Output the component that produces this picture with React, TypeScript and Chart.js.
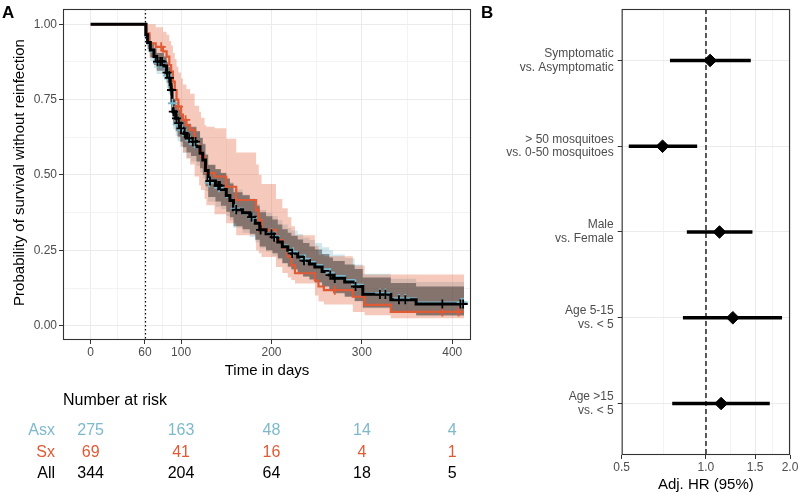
import React, { useEffect, useRef } from 'react';
import { Chart, registerables } from 'chart.js';
Chart.register(...registerables);

const FONT = "'Liberation Sans', Arial, Helvetica, sans-serif";
const GREY_TXT = '#4D4D4D';
const C_ALL = '#000000';
const C_ASX = '#7DB9CC';
const C_SX = '#E05A35';

// ---------- Panel A: Kaplan-Meier ----------
const ALL_T = [0, 60, 61, 63, 66, 70, 73, 81, 84, 86, 88, 89, 90, 91, 94, 96, 99, 102, 106, 111, 117, 121, 124, 127, 130, 138, 144, 150, 154, 158, 168, 176, 182, 187, 194, 201, 207, 212, 218, 222, 229, 235, 242, 248, 256, 264, 268, 281, 292, 301, 332, 360, 413];
const ALL_S = [1, 1, 0.965, 0.94, 0.915, 0.893, 0.876, 0.862, 0.84, 0.822, 0.8, 0.782, 0.745, 0.71, 0.688, 0.672, 0.655, 0.638, 0.622, 0.611, 0.594, 0.572, 0.55, 0.515, 0.48, 0.465, 0.452, 0.432, 0.415, 0.385, 0.375, 0.36, 0.34, 0.318, 0.305, 0.294, 0.278, 0.262, 0.25, 0.24, 0.228, 0.216, 0.205, 0.195, 0.18, 0.168, 0.157, 0.145, 0.13, 0.104, 0.086, 0.072, 0.072];
const ALL_LO = [1, 1, 0.945, 0.918, 0.89, 0.865, 0.846, 0.83, 0.806, 0.787, 0.763, 0.744, 0.705, 0.668, 0.645, 0.628, 0.61, 0.592, 0.575, 0.563, 0.545, 0.522, 0.5, 0.463, 0.427, 0.412, 0.398, 0.378, 0.36, 0.33, 0.32, 0.305, 0.285, 0.263, 0.25, 0.24, 0.224, 0.208, 0.196, 0.187, 0.175, 0.163, 0.153, 0.143, 0.13, 0.118, 0.108, 0.096, 0.082, 0.06, 0.046, 0.034, 0.034];
const ALL_HI = [1, 1, 0.985, 0.965, 0.94, 0.92, 0.905, 0.893, 0.874, 0.858, 0.838, 0.822, 0.787, 0.753, 0.732, 0.717, 0.7, 0.685, 0.67, 0.66, 0.645, 0.623, 0.602, 0.568, 0.534, 0.52, 0.507, 0.488, 0.472, 0.443, 0.433, 0.418, 0.398, 0.376, 0.363, 0.352, 0.336, 0.32, 0.308, 0.298, 0.286, 0.274, 0.263, 0.253, 0.238, 0.226, 0.215, 0.203, 0.188, 0.16, 0.142, 0.13, 0.13];

const ASX_T = ALL_T;
const ASX_S = [1, 1, 0.962, 0.935, 0.91, 0.89, 0.872, 0.856, 0.83, 0.812, 0.79, 0.774, 0.738, 0.705, 0.685, 0.668, 0.65, 0.632, 0.615, 0.604, 0.59, 0.57, 0.55, 0.51, 0.475, 0.458, 0.45, 0.428, 0.415, 0.388, 0.372, 0.358, 0.34, 0.319, 0.307, 0.297, 0.282, 0.266, 0.254, 0.245, 0.233, 0.222, 0.211, 0.201, 0.187, 0.176, 0.165, 0.152, 0.136, 0.108, 0.09, 0.077, 0.077];
const ASX_LO = [1, 1, 0.938, 0.908, 0.878, 0.855, 0.835, 0.815, 0.788, 0.768, 0.742, 0.724, 0.686, 0.652, 0.63, 0.612, 0.593, 0.574, 0.556, 0.545, 0.53, 0.508, 0.488, 0.447, 0.412, 0.395, 0.386, 0.364, 0.35, 0.325, 0.308, 0.294, 0.276, 0.256, 0.245, 0.232, 0.22, 0.205, 0.193, 0.186, 0.174, 0.162, 0.154, 0.144, 0.131, 0.122, 0.11, 0.098, 0.08, 0.058, 0.046, 0.036, 0.036];
const ASX_HI = [1, 1, 0.985, 0.962, 0.94, 0.922, 0.906, 0.892, 0.868, 0.852, 0.832, 0.818, 0.784, 0.752, 0.734, 0.718, 0.7, 0.684, 0.668, 0.657, 0.645, 0.625, 0.605, 0.566, 0.532, 0.516, 0.508, 0.488, 0.476, 0.452, 0.435, 0.422, 0.404, 0.385, 0.375, 0.364, 0.35, 0.336, 0.324, 0.316, 0.304, 0.292, 0.284, 0.274, 0.26, 0.25, 0.236, 0.224, 0.203, 0.172, 0.156, 0.145, 0.145];

const SX_T = [0, 60, 62, 65, 72, 80, 84, 87, 89, 91, 93, 95, 97, 100, 102, 106, 110, 115, 120, 122, 126, 128, 137, 150, 161, 183, 186, 189, 205, 212, 218, 222, 226, 248, 252, 258, 290, 303, 332, 413];
const SX_S = [1, 1, 0.97, 0.937, 0.925, 0.91, 0.893, 0.865, 0.843, 0.81, 0.782, 0.75, 0.727, 0.7, 0.683, 0.665, 0.65, 0.605, 0.58, 0.561, 0.53, 0.506, 0.495, 0.461, 0.417, 0.384, 0.35, 0.318, 0.284, 0.26, 0.229, 0.2, 0.174, 0.15, 0.13, 0.118, 0.096, 0.069, 0.046, 0.046];
const SX_LO = [1, 1, 0.93, 0.89, 0.865, 0.85, 0.83, 0.79, 0.765, 0.72, 0.69, 0.655, 0.625, 0.595, 0.575, 0.555, 0.535, 0.495, 0.465, 0.45, 0.42, 0.4, 0.37, 0.34, 0.3, 0.25, 0.24, 0.228, 0.195, 0.175, 0.16, 0.152, 0.14, 0.1, 0.08, 0.07, 0.045, 0.035, 0.025, 0.025];
const SX_HI = [1, 1, 1, 1, 0.99, 0.975, 0.965, 0.945, 0.93, 0.905, 0.885, 0.86, 0.84, 0.82, 0.8, 0.785, 0.77, 0.73, 0.71, 0.69, 0.665, 0.66, 0.655, 0.62, 0.575, 0.535, 0.5, 0.47, 0.42, 0.39, 0.36, 0.33, 0.3, 0.265, 0.235, 0.23, 0.2, 0.17, 0.17, 0.17];

const ALL_CENS = [74, 77, 79, 84.5, 87, 89.5, 91.5, 95, 97.5, 100, 104, 109, 113, 116, 132, 141, 143, 161, 178, 188, 200, 203, 223, 236, 265, 270, 293, 320, 326, 341, 348, 389, 409, 412];
const ASX_CENS = [74, 78, 85, 90.5, 96, 101, 110, 115, 131, 142, 160, 179, 200, 204, 224, 237, 265, 293, 320, 326, 341, 348, 410, 412];
const SX_CENS = [78, 97, 105, 270, 389, 407];

const RISK_TIMES = [0, 100, 200, 300, 400];
const RISK_ASX = [275, 163, 48, 14, 4];
const RISK_SX = [69, 41, 16, 4, 1];
const RISK_ALL = [344, 204, 64, 18, 5];

const X_MAJOR = [0, 60, 100, 200, 300, 400];
const X_MINOR = [30, 80, 150, 250, 350];
const Y_MAJOR = [0, 0.25, 0.5, 0.75, 1];
const Y_MINOR = [0.125, 0.375, 0.625, 0.875];
const INDEX_DAY = 60;

// ---------- Panel B: forest plot ----------
const FOREST_LABELS = [
  ['Symptomatic', 'vs. Asymptomatic'],
  ['> 50 mosquitoes', 'vs. 0-50 mosquitoes'],
  ['Male', 'vs. Female'],
  ['Age 5-15', 'vs. < 5'],
  ['Age >15', 'vs. < 5'],
];
const HR = [1.036, 0.7, 1.119, 1.249, 1.134];
const HR_LO = [0.744, 0.53, 0.855, 0.828, 0.758];
const HR_HI = [1.448, 0.931, 1.468, 1.873, 1.693];
const HR_MAJOR = [0.5, 1, 1.5, 2];
const HR_MINOR = [Math.SQRT1_2, Math.sqrt(1.5), Math.sqrt(3)];
const HR_REF = 1;

function stepValue(ts: number[], ss: number[], t: number) {
  let v = ss[0];
  for (let i = 0; i < ts.length; i++) {
    if (ts[i] <= t) v = ss[i];
    else break;
  }
  return v;
}
const pts = (ts: number[], ys: number[]) => ts.map((t, i) => ({ x: t, y: ys[i] }));

function band(ts: number[], lo: number[], hi: number[], color: string, order: number) {
  return [
    { data: pts(ts, lo), borderColor: 'rgba(0,0,0,0)', borderWidth: 0, pointRadius: 0, stepped: 'before', fill: false, order },
    { data: pts(ts, hi), borderColor: 'rgba(0,0,0,0)', borderWidth: 0, pointRadius: 0, stepped: 'before', fill: '-1', backgroundColor: color, order },
  ];
}
function line(ts: number[], ss: number[], color: string, width: number, order: number) {
  return { data: pts(ts, ss), borderColor: color, borderWidth: width, pointRadius: 0, stepped: 'before', fill: false, order };
}
function cens(times: number[], ts: number[], ss: number[], color: string, order: number) {
  return {
    data: times.map((t) => ({ x: t, y: stepValue(ts, ss, t) })),
    showLine: false, pointStyle: 'cross', pointRadius: 4.6, pointBorderWidth: 1.8,
    pointBorderColor: color, pointBackgroundColor: color, order,
  };
}

const isIn = (arr: number[], v: any) => arr.some((a) => Math.abs(a - v) < 1e-9);

const panelAPlugin = {
  id: 'panelA',
  beforeDatasetsDraw(chart: any) {
    const { ctx, chartArea, scales } = chart;
    const x = Math.round(scales.x.getPixelForValue(INDEX_DAY)) + 0.5;
    ctx.save();
    ctx.beginPath();
    ctx.setLineDash([1.5, 2.5]);
    ctx.strokeStyle = '#000';
    ctx.lineWidth = 1.2;
    ctx.moveTo(x, chartArea.top);
    ctx.lineTo(x, chartArea.bottom);
    ctx.stroke();
    ctx.restore();
  },
  afterDraw(chart: any) {
    const { ctx, chartArea, scales } = chart;
    ctx.save();
    ctx.strokeStyle = '#333333';
    ctx.lineWidth = 1.1;
    ctx.strokeRect(chartArea.left + 0.5, chartArea.top + 0.5, chartArea.right - chartArea.left - 1, chartArea.bottom - chartArea.top - 1);
    ctx.fillStyle = '#000';
    ctx.font = `bold 17px ${FONT}`;
    ctx.textAlign = 'left';
    ctx.textBaseline = 'alphabetic';
    ctx.fillText('A', 2, 18);
    ctx.font = `15px ${FONT}`;
    ctx.textAlign = 'center';
    ctx.fillText('Time in days', (chartArea.left + chartArea.right) / 2, 374.5);
    ctx.save();
    ctx.translate(23.5, (chartArea.top + chartArea.bottom) / 2 - 2);
    ctx.rotate(-Math.PI / 2);
    ctx.fillText('Probability of survival without reinfection', 0, 0);
    ctx.restore();
    ctx.font = `16px ${FONT}`;
    ctx.textAlign = 'left';
    ctx.fillText('Number at risk', chartArea.left, 405);
    const rows: [string, number[], string, number][] = [
      ['Asx', RISK_ASX, C_ASX, 435],
      ['Sx', RISK_SX, C_SX, 457],
      ['All', RISK_ALL, '#000', 478],
    ];
    rows.forEach(([name, vals, col, y]) => {
      ctx.fillStyle = col;
      ctx.textAlign = 'right';
      ctx.fillText(name, 55, y);
      ctx.textAlign = 'center';
      vals.forEach((v, i) => {
        ctx.fillText(String(v), scales.x.getPixelForValue(RISK_TIMES[i]), y);
      });
    });
    ctx.restore();
  },
};

const panelBPlugin = {
  id: 'panelB',
  beforeDatasetsDraw(chart: any) {
    const { ctx, chartArea, scales } = chart;
    const x = Math.round(scales.x.getPixelForValue(HR_REF));
    ctx.save();
    ctx.beginPath();
    ctx.setLineDash([5, 3]);
    ctx.strokeStyle = '#333';
    ctx.lineWidth = 1.6;
    ctx.moveTo(x, chartArea.top);
    ctx.lineTo(x, chartArea.bottom);
    ctx.stroke();
    ctx.restore();
  },
  afterDraw(chart: any) {
    const { ctx, chartArea } = chart;
    ctx.save();
    ctx.strokeStyle = '#333333';
    ctx.lineWidth = 1.1;
    ctx.strokeRect(chartArea.left + 0.5, chartArea.top + 0.5, chartArea.right - chartArea.left - 1, chartArea.bottom - chartArea.top - 1);
    ctx.fillStyle = '#000';
    ctx.font = `bold 17px ${FONT}`;
    ctx.textAlign = 'left';
    ctx.textBaseline = 'alphabetic';
    ctx.fillText('B', 1, 18);
    ctx.font = `15px ${FONT}`;
    ctx.textAlign = 'center';
    ctx.fillText('Adj. HR (95%)', (chartArea.left + chartArea.right) / 2, 489);
    ctx.restore();
  },
};

const noPad = (s: any) => {
  s.paddingTop = 0;
  s.paddingBottom = 0;
  s.paddingLeft = 0;
  s.paddingRight = 0;
};

export default function App() {
  const refA = useRef<HTMLCanvasElement>(null);
  const refB = useRef<HTMLCanvasElement>(null);

  useEffect(() => {
    Chart.defaults.font.family = FONT;

    const gridA = (major: number[]) => ({
      color: (c: any) => (c.tick && isIn(major, c.tick.value) ? '#EBEBEB' : '#F3F3F3'),
      lineWidth: 1,
      tickLength: 4,
      tickWidth: 1,
      tickColor: (c: any) => (c.tick && isIn(major, c.tick.value) ? '#333333' : 'rgba(0,0,0,0)'),
    });

    const chartA = new Chart(refA.current as HTMLCanvasElement, {
      type: 'line',
      data: {
        datasets: [
          ...band(ASX_T, ASX_LO, ASX_HI, 'rgba(125,185,204,0.35)', 12),
          ...band(SX_T, SX_LO, SX_HI, 'rgba(224,90,53,0.33)', 11),
          ...band(ALL_T, ALL_LO, ALL_HI, 'rgba(0,0,0,0.38)', 10),
          line(ASX_T, ASX_S, C_ASX, 2, 6),
          line(SX_T, SX_S, C_SX, 2.2, 5),
          line(ALL_T, ALL_S, C_ALL, 3, 4),
          cens(ASX_CENS, ASX_T, ASX_S, C_ASX, 3),
          cens(SX_CENS, SX_T, SX_S, C_SX, 2),
          cens(ALL_CENS, ALL_T, ALL_S, C_ALL, 1),
        ] as any,
      },
      options: {
        animation: false,
        responsive: false,
        devicePixelRatio: 1,
        events: [],
        layout: { padding: { left: 0, right: 9, top: 9, bottom: 0 } },
        plugins: { legend: { display: false }, tooltip: { enabled: false } },
        scales: {
          x: {
            type: 'linear', min: -30.6, max: 420.7, bounds: 'data',
            afterBuildTicks: (s: any) => { s.ticks = [...X_MAJOR, ...X_MINOR].sort((a, b) => a - b).map((v) => ({ value: v })); },
            ticks: {
              autoSkip: false, maxRotation: 0, color: GREY_TXT, padding: 1,
              font: { size: 12, family: FONT },
              callback: (v: any) => (isIn(X_MAJOR, v) ? String(v) : ''),
            },
            grid: gridA(X_MAJOR) as any,
            border: { display: false },
            afterFit: (s: any) => { s.height = 154; noPad(s); },
          },
          y: {
            type: 'linear', min: -0.0475, max: 1.0508, bounds: 'data',
            afterBuildTicks: (s: any) => { s.ticks = [...Y_MAJOR, ...Y_MINOR].sort((a, b) => a - b).map((v) => ({ value: v })); },
            ticks: {
              autoSkip: false, color: GREY_TXT, padding: 2,
              font: { size: 12, family: FONT },
              callback: (v: any) => (isIn(Y_MAJOR, v) ? Number(v).toFixed(2) : ''),
            },
            grid: gridA(Y_MAJOR) as any,
            border: { display: false },
            afterFit: (s: any) => { s.width = 63; noPad(s); },
          },
        },
      } as any,
      plugins: [panelAPlugin],
    });

    const chartB = new Chart(refB.current as HTMLCanvasElement, {
      type: 'line',
      data: {
        datasets: [
          {
            data: HR.map((v, i) => ({ x: v, y: FOREST_LABELS.length - i })),
            showLine: false, pointStyle: 'rectRot', pointRadius: 6.3,
            pointBackgroundColor: '#000', pointBorderColor: '#000', pointBorderWidth: 1, order: 0,
          },
          ...HR_LO.map((lo, i) => ({
            data: [{ x: lo, y: FOREST_LABELS.length - i }, { x: HR_HI[i], y: FOREST_LABELS.length - i }],
            borderColor: '#000', borderWidth: 3.4, pointRadius: 0, borderCapStyle: 'butt', fill: false, order: 1,
          })),
        ] as any,
      },
      options: {
        animation: false,
        responsive: false,
        devicePixelRatio: 1,
        events: [],
        layout: { padding: { left: 0, right: 10, top: 9, bottom: 0 } },
        plugins: { legend: { display: false }, tooltip: { enabled: false } },
        scales: {
          x: {
            type: 'logarithmic', min: 0.5, max: 2, bounds: 'data',
            afterBuildTicks: (s: any) => { s.ticks = [...HR_MAJOR, ...HR_MINOR].sort((a, b) => a - b).map((v) => ({ value: v })); },
            ticks: {
              autoSkip: false, maxRotation: 0, color: GREY_TXT, padding: 1,
              font: { size: 12, family: FONT },
              callback: (v: any) => (isIn(HR_MAJOR, v) ? Number(v).toFixed(1) : ''),
            },
            grid: gridA(HR_MAJOR) as any,
            border: { display: false },
            afterFit: (s: any) => { s.height = 39; noPad(s); },
          },
          y: {
            type: 'linear', min: 0.4, max: FOREST_LABELS.length + 0.6, bounds: 'data',
            afterBuildTicks: (s: any) => { s.ticks = FOREST_LABELS.map((_, i) => ({ value: i + 1 })); },
            ticks: {
              autoSkip: false, color: GREY_TXT, padding: 4,
              font: { size: 12, family: FONT, lineHeight: 1.15 },
              callback: (v: any) => FOREST_LABELS[FOREST_LABELS.length - Number(v)],
            },
            grid: { color: '#EBEBEB', lineWidth: 1, tickLength: 4, tickColor: '#333333', tickWidth: 1 },
            border: { display: false },
            afterFit: (s: any) => { s.width = 141.7; noPad(s); },
          },
        },
      } as any,
      plugins: [panelBPlugin],
    });

    return () => {
      chartA.destroy();
      chartB.destroy();
    };
  }, []);

  return (
    <div style={{ position: 'fixed', left: 0, top: 0, width: 800, height: 494, background: '#ffffff' }}>
      <canvas ref={refA} width={480} height={494} style={{ position: 'absolute', left: 0, top: 0, width: 480, height: 494 }} />
      <canvas ref={refB} width={320} height={494} style={{ position: 'absolute', left: 480, top: 0, width: 320, height: 494 }} />
    </div>
  );
}
